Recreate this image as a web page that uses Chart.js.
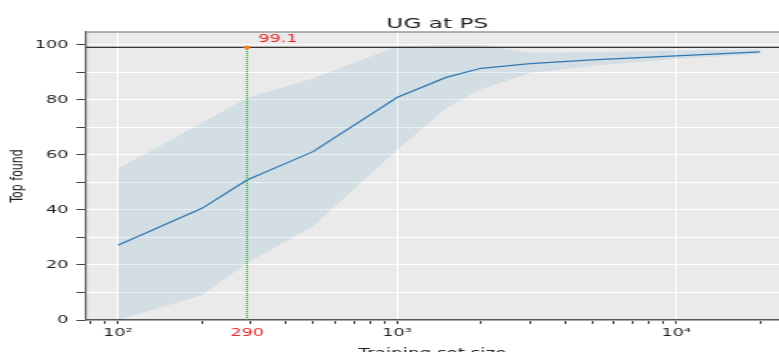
<!DOCTYPE html>
<html lang="en">
<head>
<meta charset="UTF-8">
<title>UG at PS</title>
<script src="https://cdn.jsdelivr.net/npm/chart.js@4.4.1/dist/chart.umd.min.js"></script>
<style>
  html, body { margin: 0; padding: 0; background: #fff; overflow: hidden; }
  #chart { display: block; }
</style>
</head>
<body>
<!-- the source picture is stretched sideways, so the canvas is drawn narrow and widened by css -->
<canvas id="chart" width="487" height="352" style="width:779px;height:352px"></canvas>
<script>
// training set sizes and "top found" curve with its spread
const SIZES = [100, 200, 290, 500, 1000, 1500, 2000, 3000, 5000, 10000, 20000];
const MEAN  = [27.2, 40.6, 50.9, 61.2, 80.9, 88.2, 91.5, 93.2, 94.6, 96.0, 97.5];
const UPPER = [55.0, 71.6, 80.8, 87.8, 99.4, 100.0, 100.0, 97.2, 97.3, 97.9, 98.3];
const LOWER = [0.0, 9.0, 20.7, 34.2, 61.8, 77.0, 84.0, 89.8, 92.4, 95.0, 96.7];

// marked point
const BEST_SIZE = 290;
const BEST_VALUE = 99.1;

// axes
const X_RANGE = [76.8, 23400];
const Y_RANGE = [0, 104.7];
const X_TICKS = [80, 90, 100, 200, 290, 300, 400, 500, 600, 700, 800, 900,
                 1000, 2000, 3000, 4000, 5000, 6000, 7000, 8000, 9000, 10000, 20000];
const X_MAJOR = [100, 1000, 10000];
const X_LABELS = { 100: '10²', 290: '290', 1000: '10³', 10000: '10⁴' };
const Y_TICKS = [0, 10, 20, 30, 40, 50, 60, 70, 80, 90, 100];

const TITLE = 'UG at PS';
const FONT = 'DejaVu Sans';
const RED = '#ee2222';
const TEXT = '#222';

const pts = (xs, ys) => xs.map((x, i) => ({ x, y: ys[i] }));

// grey plot background, top frame line and the title
// (the original axes run a little past the right edge, so the title sits right of the visible centre)
const plotFrame = {
  id: 'plotFrame',
  beforeDraw(chart) {
    const { ctx, chartArea: a } = chart;
    ctx.save();
    ctx.fillStyle = '#eaeaea';
    ctx.fillRect(a.left, a.top, a.right - a.left, a.bottom - a.top);
    ctx.restore();
  },
  afterDraw(chart) {
    const { ctx, chartArea: a } = chart;
    ctx.save();
    ctx.strokeStyle = '#999';
    ctx.lineWidth = 1.5;
    ctx.beginPath();
    ctx.moveTo(a.left, a.top);
    ctx.lineTo(a.right, a.top);
    ctx.stroke();
    ctx.font = `14.5px "${FONT}"`;
    ctx.fillStyle = TEXT;
    ctx.textAlign = 'center';
    ctx.textBaseline = 'alphabetic';
    ctx.fillText(TITLE, (a.left + a.right) / 2 + 3, a.top - 4);
    ctx.restore();
  },
};

// red "99.1" next to the orange dot
const bestLabel = {
  id: 'bestLabel',
  afterDatasetsDraw(chart) {
    const { ctx, scales: { x, y } } = chart;
    ctx.save();
    ctx.font = `11px "${FONT}"`;
    ctx.fillStyle = RED;
    ctx.textBaseline = 'middle';
    ctx.textAlign = 'left';
    ctx.fillText(String(BEST_VALUE), x.getPixelForValue(BEST_SIZE) + 7, y.getPixelForValue(BEST_VALUE) - 8);
    ctx.restore();
  },
};

new Chart(document.getElementById('chart'), {
  type: 'line',
  data: {
    datasets: [
      {
        data: [{ x: BEST_SIZE, y: BEST_VALUE }],
        showLine: false,
        pointRadius: 1.9,
        pointBackgroundColor: '#ff7f0e',
        pointBorderWidth: 0,
        order: 0,
      },
      {
        data: [{ x: BEST_SIZE, y: Y_RANGE[0] }, { x: BEST_SIZE, y: BEST_VALUE }],
        borderColor: '#3cb43c',
        borderWidth: 1.1,
        borderDash: [1.2, 0.8],
        pointRadius: 0,
        order: 1,
      },
      {
        data: [{ x: X_RANGE[0], y: BEST_VALUE }, { x: X_RANGE[1], y: BEST_VALUE }],
        borderColor: '#333',
        borderWidth: 1.2,
        pointRadius: 0,
        order: 2,
      },
      {
        data: pts(SIZES, MEAN),
        borderColor: '#2f78b4',
        borderWidth: 1.2,
        pointRadius: 0,
        tension: 0,
        order: 3,
      },
      {
        data: pts(SIZES, UPPER),
        borderWidth: 0,
        pointRadius: 0,
        fill: '+1',
        backgroundColor: 'rgba(31, 119, 180, 0.11)',
        order: 4,
      },
      {
        data: pts(SIZES, LOWER),
        borderWidth: 0,
        pointRadius: 0,
        fill: false,
        order: 5,
      },
    ],
  },
  options: {
    responsive: false,
    animation: false,
    devicePixelRatio: 1,
    layout: { autoPadding: false, padding: { top: 32, left: 0, right: 0, bottom: 0 } },
    plugins: {
      legend: { display: false },
      tooltip: { enabled: false },
      title: { display: false },
    },
    scales: {
      x: {
        type: 'logarithmic',
        min: X_RANGE[0],
        max: X_RANGE[1],
        afterBuildTicks: s => { s.ticks = X_TICKS.map(v => ({ value: v, major: X_MAJOR.includes(v) })); },
        afterFit: s => { s.height = 32; s.paddingLeft = 0; s.paddingRight = 0; },
        ticks: {
          autoSkip: false,
          maxRotation: 0,
          minRotation: 0,
          padding: 3,
          font: { family: FONT, size: 11 },
          color: c => (c.tick && c.tick.value === BEST_SIZE ? RED : TEXT),
          callback: v => X_LABELS[v] || '',
        },
        grid: {
          color: c => (c.tick && X_MAJOR.includes(c.tick.value) ? '#ffffff' : 'rgba(0,0,0,0)'),
          tickColor: c => (c.tick && c.tick.value === BEST_SIZE ? 'rgba(0,0,0,0)' : '#444'),
          tickLength: 4,
          lineWidth: 1,
        },
        border: { color: '#555', width: 1.5 },
        title: {
          display: true,
          text: 'Training set size',
          color: TEXT,
          font: { family: FONT, size: 11.5 },
          padding: { top: 0, bottom: -8.5 },
        },
      },
      y: {
        min: Y_RANGE[0],
        max: Y_RANGE[1],
        afterBuildTicks: s => { s.ticks = Y_TICKS.map(v => ({ value: v })); },
        afterFit: s => { s.width = 53.75; },
        ticks: {
          padding: 5,
          font: { family: FONT, size: 11 },
          color: TEXT,
          callback: v => (v % 20 === 0 ? String(v) : ''),
        },
        grid: {
          color: '#ffffff',
          tickColor: '#444',
          tickLength: 6,
          lineWidth: 1,
        },
        border: { color: '#666', width: 1.2 },
        title: {
          display: true,
          text: 'Top found',
          color: TEXT,
          font: { family: FONT, size: 11 },
          padding: { top: 4.8, bottom: 0 },
        },
      },
    },
  },
  plugins: [plotFrame, bestLabel],
});
</script>
</body>
</html>
